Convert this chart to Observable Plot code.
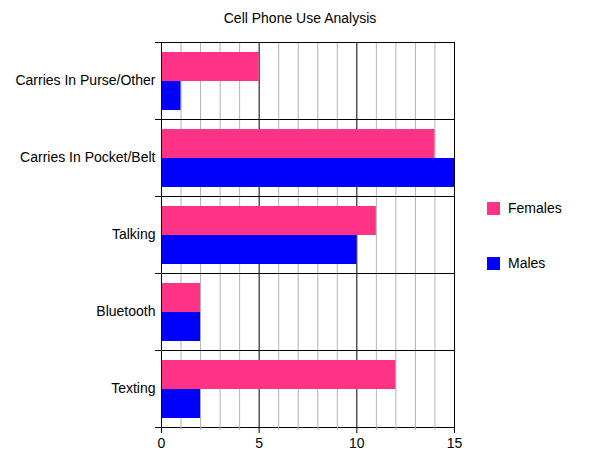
<!DOCTYPE html>
<html>
<head>
<meta charset="utf-8">
<script src="https://cdn.jsdelivr.net/npm/d3@7"></script>
<script src="https://cdn.jsdelivr.net/npm/@observablehq/plot@0.6"></script>
<style>
  html, body { margin: 0; padding: 0; background: white; }
  #wrap { position: relative; width: 600px; height: 463px; font-family: "Liberation Sans", Arial, sans-serif; color: #000; }
  #chart { position: absolute; left: 0; top: 0; }
  #title { position: absolute; left: 0; top: 10px; width: 600px; text-align: center; font-size: 14px; }
  .leg { position: absolute; left: 487px; font-size: 14px; display: flex; align-items: center; }
  .sw { width: 13px; height: 13px; margin-right: 8px; }
</style>
</head>
<body>
<div id="wrap">
  <div id="chart"></div>
  <div id="title"></div>
  <div id="legend"></div>
</div>
<script>
const title = "Cell Phone Use Analysis";
const categories = ["Carries In Purse/Other", "Carries In Pocket/Belt", "Talking", "Bluetooth", "Texting"];
const series = ["Females", "Males"];
const females = [5, 14, 11, 2, 12];
const males = [1, 15, 10, 2, 2];
const colors = ["#ff3385", "#0000ff"];
const xTicks = [0, 5, 10, 15];
const minorTicks = [1, 2, 3, 4, 6, 7, 8, 9, 11, 12, 13, 14];
const majorInner = [5, 10];
const edges = [0, 15];

const data = categories.flatMap((c, i) => [
  {category: c, series: "Females", value: females[i]},
  {category: c, series: "Males", value: males[i]}
]);

const chart = Plot.plot({
  width: 600,
  height: 463,
  marginTop: 40,
  marginBottom: 35,
  marginLeft: 161,
  marginRight: 146,
  style: {fontFamily: "'Liberation Sans', Arial, sans-serif", fontSize: "14px", background: "white", color: "black", overflow: "visible"},
  x: {domain: [0, 15]},
  y: {domain: series, paddingInner: 0, paddingOuter: 0.29},
  fy: {domain: categories, padding: 0},
  color: {domain: series, range: colors},
  marks: [
    Plot.ruleX(minorTicks, {stroke: "#b3b3b3"}),
    Plot.ruleX(majorInner, {stroke: "black"}),
    Plot.barX(data, {fy: "category", y: "series", x: "value", fill: "series"}),
    Plot.ruleX(edges, {stroke: "black"}),
    Plot.frame({anchor: "top", insetLeft: -6, stroke: "black"}),
    Plot.frame({anchor: "bottom", insetLeft: -6, stroke: "black"}),
    Plot.axisFy({anchor: "left", tickSize: 0, tickPadding: 6, fontSize: 14, label: null}),
    Plot.axisX({ticks: minorTicks, tickSize: 3, tickFormat: () => "", stroke: "#b3b3b3", label: null}),
    Plot.axisX({ticks: xTicks, tickSize: 6, tickPadding: 5, fontSize: 14, label: null}),
    Plot.axisY({ticks: [], label: null})
  ]
});
document.getElementById("chart").appendChild(chart);
document.getElementById("title").textContent = title;

const legend = document.getElementById("legend");
const legTops = [201, 256];
series.forEach((s, i) => {
  const row = document.createElement("div");
  row.className = "leg";
  row.style.top = (legTops[i] - 1) + "px";
  const sw = document.createElement("div");
  sw.className = "sw";
  sw.style.background = colors[i];
  const t = document.createElement("span");
  t.textContent = s;
  row.appendChild(sw);
  row.appendChild(t);
  legend.appendChild(row);
});
</script>
</body>
</html>
